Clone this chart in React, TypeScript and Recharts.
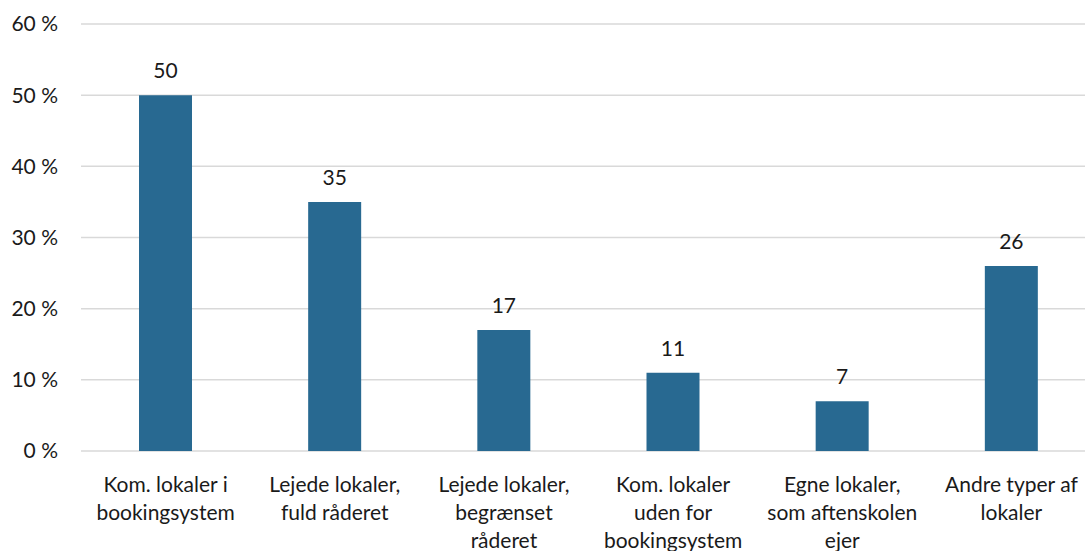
import React from "react";
import { BarChart, Bar, XAxis, YAxis, CartesianGrid, LabelList } from "recharts";

const categories = [
  "Kom. lokaler i\nbookingsystem",
  "Lejede lokaler,\nfuld råderet",
  "Lejede lokaler,\nbegrænset\nråderet",
  "Kom. lokaler\nuden for\nbookingsystem",
  "Egne lokaler,\nsom aftenskolen\nejer",
  "Andre typer af\nlokaler",
];
const values = [50, 35, 17, 11, 7, 26];
const yTicks = [0, 10, 20, 30, 40, 50, 60];

const data = categories.map((name, i) => ({ name, value: values[i] }));

const FONT = "Lato, 'Noto Sans', sans-serif";
const TEXT = "#1a1a1a";

function CategoryTick(props: any) {
  const { x, y, payload } = props;
  const lines = String(payload.value).split("\n");
  return (
    <text x={x} y={y + 41} textAnchor="middle" fill={TEXT} fontSize={21} fontFamily={FONT}>
      {lines.map((line: string, i: number) => (
        <tspan key={i} x={x} dy={i === 0 ? 0 : 28}>
          {line}
        </tspan>
      ))}
    </text>
  );
}

export default function App() {
  return (
    <div
      style={{
        position: "fixed",
        top: 0,
        left: 0,
        width: 1085,
        height: 551,
        overflow: "hidden",
        background: "#fff",
      }}
    >
      <BarChart
        width={1100}
        height={560}
        data={data}
        margin={{ top: 24, right: 4, left: 0, bottom: 0 }}
        barCategoryGap={0}
      >
        <CartesianGrid vertical={false} stroke="#d9d9d9" strokeWidth={1.5} />
        <XAxis
          dataKey="name"
          height={109}
          axisLine={false}
          tickLine={false}
          tickSize={0}
          tickMargin={0}
          interval={0}
          tick={<CategoryTick />}
        />
        <YAxis
          width={81}
          domain={[0, 60]}
          ticks={yTicks}
          axisLine={false}
          tickLine={false}
          tickSize={0}
          tickMargin={23}
          tickFormatter={(v) => `${v} %`}
          tick={{ fill: TEXT, fontSize: 21, fontFamily: FONT }}
        />
        <Bar dataKey="value" fill="#286991" barSize={53} isAnimationActive={false}>
          <LabelList
            dataKey="value"
            position="top"
            offset={17}
            fill={TEXT}
            fontSize={21}
            fontFamily={FONT}
          />
        </Bar>
      </BarChart>
    </div>
  );
}
